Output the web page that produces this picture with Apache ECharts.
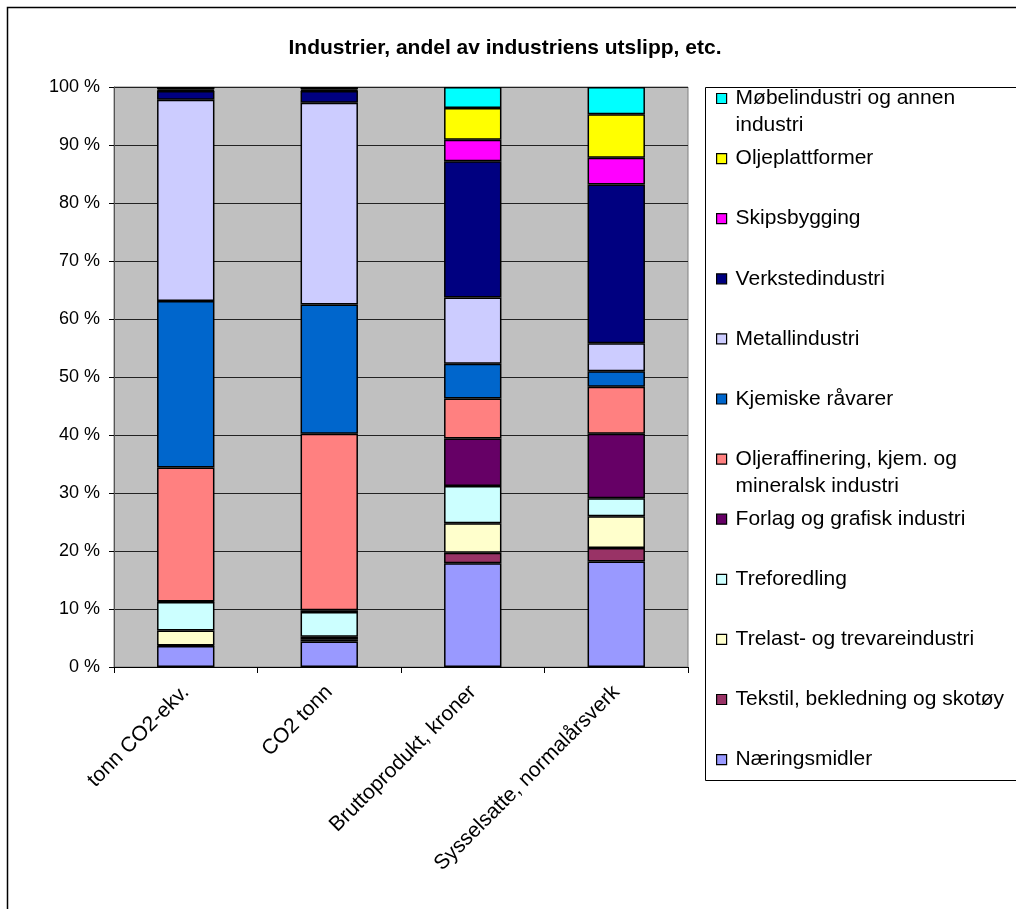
<!DOCTYPE html>
<html>
<head>
<meta charset="utf-8">
<script src="https://cdn.jsdelivr.net/npm/echarts@6/dist/echarts.min.js"></script>
<style>
  html, body { margin: 0; padding: 0; background: #fff; }
  #chart { width: 1016px; height: 909px; }
</style>
</head>
<body>
<div id="chart"></div>
<script>
// Categories on the x axis
const categories = ['tonn CO2-ekv.', 'CO2 tonn', 'Bruttoprodukt, kroner', 'Sysselsatte, normalårsverk'];

// Industry shares in percent, one value per category (stack order bottom to top)
const naeringsmidler   = [3.6, 4.4, 17.9, 18.2];
const tekstil          = [0.1, 0.3, 1.8, 2.3];
const trelast          = [2.6, 0.5, 5.1, 5.5];
const treforedling     = [4.9, 4.3, 6.4, 3.1];
const forlag           = [0.1, 0.3, 8.2, 11.1];
const oljeraffinering  = [23.1, 30.4, 6.9, 8.1];
const kjemiske         = [28.7, 22.3, 6.0, 2.7];
const metall           = [34.7, 34.8, 11.4, 4.8];
const verksted         = [1.5, 2.0, 23.5, 27.4];
const skipsbygging     = [0.1, 0.1, 3.7, 4.6];
const oljeplattformer  = [0.2, 0.2, 5.5, 7.5];
const mobelindustri    = [0.4, 0.4, 3.6, 4.7];

// Series names and legend labels (legend labels may wrap onto two lines)
const seriesNames = [
  'Næringsmidler', 'Tekstil, bekledning og skotøy', 'Trelast- og trevareindustri',
  'Treforedling', 'Forlag og grafisk industri', 'Oljeraffinering, kjem. og mineralsk industri',
  'Kjemiske råvarer', 'Metallindustri', 'Verkstedindustri', 'Skipsbygging',
  'Oljeplattformer', 'Møbelindustri og annen industri'
];
const legendLines = [
  ['Næringsmidler'], ['Tekstil, bekledning og skotøy'], ['Trelast- og trevareindustri'],
  ['Treforedling'], ['Forlag og grafisk industri'], ['Oljeraffinering, kjem. og', 'mineralsk industri'],
  ['Kjemiske råvarer'], ['Metallindustri'], ['Verkstedindustri'], ['Skipsbygging'],
  ['Oljeplattformer'], ['Møbelindustri og annen', 'industri']
];
const seriesValues = [
  naeringsmidler, tekstil, trelast, treforedling, forlag, oljeraffinering,
  kjemiske, metall, verksted, skipsbygging, oljeplattformer, mobelindustri
];
const seriesColors = [
  '#9999FF', '#993366', '#FFFFCC', '#CCFFFF', '#660066', '#FF8080',
  '#0066CC', '#CCCCFF', '#000080', '#FF00FF', '#FFFF00', '#00FFFF'
];

const yTicks = { min: 0, max: 100, interval: 10 };

const FONT = "'Liberation Sans', Arial, sans-serif";
const chart = echarts.init(document.getElementById('chart'), null, { renderer: 'canvas' });

// One legend block per series, listed top-down (last series first)
const LINE_H = 27;
const legends = [];
for (let k = 0; k < seriesNames.length; k++) {
  const idx = seriesNames.length - 1 - k;
  const lines = legendLines[idx];
  const cy = 98.5 + k * 60.1;
  const nLines = lines.length === 1 ? 1 : 3;
  legends.push({
    data: [seriesNames[idx]],
    orient: 'vertical',
    left: 716,
    top: cy - nLines * LINE_H / 2,
    padding: 0,
    itemWidth: 10,
    itemHeight: 10,
    icon: 'rect',
    itemStyle: { borderColor: '#000', borderWidth: 1.2 },
    selectedMode: false,
    formatter: function () {
      return lines.length === 1 ? lines[0] : '\n' + lines[0] + '\n' + lines[1];
    },
    textStyle: {
      fontFamily: FONT, fontSize: 21, color: '#000',
      lineHeight: LINE_H, padding: [0, 0, 0, 4]
    }
  });
}

const option = {
  animation: false,
  backgroundColor: '#fff',
  graphic: [
    { type: 'rect', shape: { x: 7.5, y: 7.5, width: 1100, height: 1000 },
      style: { fill: 'none', stroke: '#000', lineWidth: 1.5 }, silent: true },
    { type: 'rect', shape: { x: 705.5, y: 87.5, width: 400, height: 693 },
      style: { fill: '#fff', stroke: '#000', lineWidth: 1 }, z: -1, silent: true },
    { type: 'text', x: 505, y: 48,
      style: { text: 'Industrier, andel av industriens utslipp, etc.', fill: '#000',
               font: 'bold 21px ' + FONT, textAlign: 'center', textVerticalAlign: 'middle' } }
  ],
  legend: legends,
  grid: {
    left: 114, right: 328, top: 87, bottom: 242,
    show: true, backgroundColor: '#C0C0C0', borderColor: '#808080', borderWidth: 1
  },
  xAxis: {
    type: 'category',
    data: categories,
    axisLine: { lineStyle: { color: '#000', width: 1 } },
    axisTick: { show: true, length: 6, alignWithLabel: false, lineStyle: { color: '#000' } },
    axisLabel: {
      interval: 0, rotate: 45, margin: 22,
      align: 'right', verticalAlign: 'middle',
      fontFamily: FONT, fontSize: 21, color: '#000'
    },
    splitLine: { show: false }
  },
  yAxis: {
    type: 'value',
    min: yTicks.min, max: yTicks.max, interval: yTicks.interval,
    axisLine: { show: true, lineStyle: { color: '#555', width: 1 } },
    axisTick: { show: true, length: 5, lineStyle: { color: '#000' } },
    axisLabel: {
      formatter: '{value} %', margin: 14,
      fontFamily: FONT, fontSize: 18, color: '#000'
    },
    splitLine: { show: true, lineStyle: { color: '#222', width: 1 } }
  },
  series: seriesNames.map((name, i) => ({
    name: name,
    type: 'bar',
    stack: 'total',
    barWidth: '40%',
    data: seriesValues[i],
    itemStyle: { color: seriesColors[i], borderColor: '#000', borderWidth: 1.5 },
    emphasis: { disabled: true }
  }))
};

chart.setOption(option);
</script>
</body>
</html>
